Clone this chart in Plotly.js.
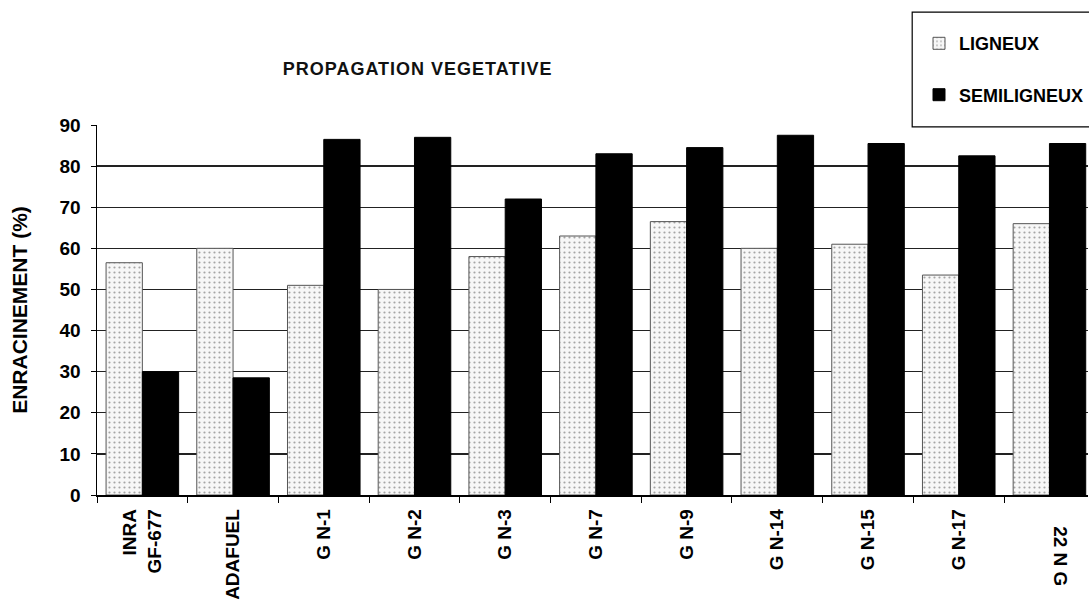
<!DOCTYPE html>
<html>
<head>
<meta charset="utf-8">
<script src="https://cdn.plot.ly/plotly-3.0.1.min.js"></script>
<style>
  html, body { margin: 0; padding: 0; background: #fff; }
  #chart { width: 1089px; height: 600px; }
  .gtitle { letter-spacing: 1px; }
</style>
</head>
<body>
<div id="chart"></div>
<script>
// ---- data ----
const categories = ['INRA GF-677', 'ADAFUEL', 'G N-1', 'G N-2', 'G N-3', 'G N-7', 'G N-9', 'G N-14', 'G N-15', 'G N-17', 'G N-22'];
const tickLabels = ['INRA<br>GF-677', 'ADAFUEL', 'G N-1', 'G N-2', 'G N-3', 'G N-7', 'G N-9', 'G N-14', 'G N-15', 'G N-17', ''];
const lastLabel = '22 N G';
const ligneux = [56.5, 60, 51, 50, 58, 63, 66.5, 60, 61, 53.5, 66];
const semiligneux = [30, 28.5, 86.5, 87, 72, 83, 84.5, 87.5, 85.5, 82.5, 85.5];
const yTicks = [0, 10, 20, 30, 40, 50, 60, 70, 80, 90];

const FONT = 'Liberation Sans, Arial, Helvetica, sans-serif';

const traces = [
  {
    type: 'bar', name: 'LIGNEUX', x: categories, y: ligneux, legendgroup: 'a',
    marker: {
      color: '#f3f3f3',
      line: { color: '#555', width: 1 },
      pattern: { shape: '.', fgcolor: '#a5a5a5', bgcolor: '#f7f7f7', size: 5, solidity: 0.15 }
    },
    hoverinfo: 'x+y'
  },
  {
    type: 'bar', name: 'SEMILIGNEUX', x: categories, y: semiligneux, legendgroup: 'b',
    marker: { color: '#000', line: { color: '#000', width: 1 } },
    hoverinfo: 'x+y'
  }
];

const layout = {
  width: 1089, height: 600,
  margin: { l: 97, r: 0, t: 125, b: 105 },
  paper_bgcolor: '#fff', plot_bgcolor: '#fff',
  font: { family: FONT, color: '#000', size: 18, weight: 'bold' },
  barmode: 'group', bargap: 0.2, bargroupgap: 0,
  title: {
    text: 'PROPAGATION VEGETATIVE',
    font: { family: FONT, size: 18, weight: 'bold', color: '#111' },
    xref: 'paper', x: 0.3235, xanchor: 'center',
    yref: 'container', y: 0.885, yanchor: 'middle'
  },
  xaxis: {
    type: 'category',
    range: [-0.5, 10.425],
    tickmode: 'array', tickvals: categories, ticktext: tickLabels,
    tickangle: -90,
    tickson: 'boundaries', ticks: 'outside', ticklen: 6, tickcolor: '#000', tickwidth: 1,
    ticklabelstandoff: 5,
    tickfont: { family: FONT, size: 19, weight: 'bold', color: '#000' },
    showline: true, linecolor: '#000', linewidth: 1.5,
    showgrid: false, zeroline: false, fixedrange: true
  },
  yaxis: {
    range: [0, 90],
    tickmode: 'array', tickvals: yTicks,
    ticks: 'outside', ticklen: 5, tickcolor: '#000',
    ticklabelstandoff: 6,
    tickfont: { family: FONT, size: 19, weight: 'bold', color: '#000' },
    showline: true, linecolor: '#000', linewidth: 1.5,
    showgrid: true, gridcolor: '#222', gridwidth: 1.3,
    zeroline: false, fixedrange: true,
    title: { text: 'ENRACINEMENT (%)', font: { family: FONT, size: 21, weight: 'bold', color: '#000' }, standoff: 26 }
  },
  showlegend: true,
  legend: {
    x: 0.8296, xanchor: 'left', y: 1.27, yanchor: 'top',
    traceorder: 'grouped', tracegroupgap: 25,
    bgcolor: 'rgba(0,0,0,0)', borderwidth: 0,
    font: { family: FONT, size: 18, weight: 'bold', color: '#000' }
  },
  shapes: [
    { type: 'rect', xref: 'paper', yref: 'paper', x0: 0.8226, x1: 1.05, y0: 0.995, y1: 1.305,
      line: { color: '#000', width: 1.2 }, fillcolor: 'rgba(0,0,0,0)', layer: 'above' }
  ],
  annotations: [
    { x: categories[10], y: -0.08, xref: 'x', yref: 'paper', text: lastLabel, textangle: 90,
      showarrow: false, xanchor: 'center', yanchor: 'top', xshift: 11,
      font: { family: FONT, size: 19, weight: 'bold', color: '#000' } }
  ]
};

Plotly.newPlot('chart', traces, layout, { staticPlot: true, displayModeBar: false });
</script>
</body>
</html>
